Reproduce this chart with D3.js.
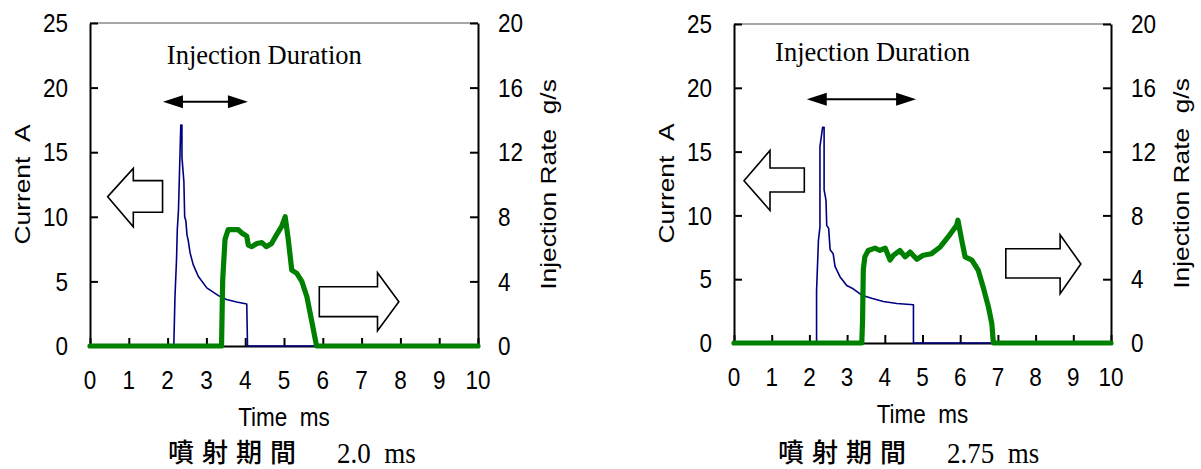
<!DOCTYPE html>
<html>
<head>
<meta charset="utf-8">
<script src="https://cdn.jsdelivr.net/npm/d3@7"></script>
<style>
  body { margin: 0; background: #fff; }
  svg { display: block; }
  .sans { font-family: "Liberation Sans", Arial, sans-serif; fill: #000; }
  .serif { font-family: "Liberation Serif", "Times New Roman", serif; fill: #000; }
  .cjk { font-family: "Noto Sans CJK JP", "Noto Sans CJK SC", sans-serif; fill: #000; }
</style>
</head>
<body>
<div id="chart"></div>
<script>
// axis ticks
const timeTicks = [0, 1, 2, 3, 4, 5, 6, 7, 8, 9, 10];
const currentTicks = [0, 5, 10, 15, 20, 25];
const rateTicks = [0, 4, 8, 12, 16, 20];

// injection duration 2.0 ms : [time ms, current A] and [time ms, rate g/s]
const current20 = [[0, 0], [2.16, 0], [2.19, 3.8], [2.23, 6.7], [2.25, 9.0], [2.28, 10.5], [2.34, 17.1], [2.37, 17.1],
  [2.37, 14.6], [2.42, 12.7], [2.44, 10.0], [2.47, 9.7], [2.50, 8.6], [2.53, 8.2], [2.58, 7.2], [2.66, 6.3],
  [2.79, 5.4], [3.01, 4.5], [3.31, 3.9], [3.52, 3.6], [3.78, 3.4], [4.04, 3.25], [4.06, 0], [10, 0]];
const rate20 = [[0, 0], [3.39, 0], [3.42, 4.1], [3.48, 6.6], [3.56, 7.2], [3.69, 7.2], [3.82, 7.2], [3.91, 7.0],
  [4.04, 6.8], [4.08, 6.25], [4.17, 6.15], [4.30, 6.35], [4.43, 6.4], [4.55, 6.15], [4.68, 6.35], [4.81, 6.9],
  [4.94, 7.4], [5.03, 8.0], [5.11, 6.6], [5.20, 4.7], [5.33, 4.5], [5.46, 4.0], [5.59, 3.05], [5.71, 1.6],
  [5.84, 0], [10, 0]];

// injection duration 2.75 ms
const current275 = [[0, 0], [2.19, 0], [2.19, 4.1], [2.24, 8.05], [2.28, 9.1], [2.28, 15.4], [2.35, 16.9], [2.39, 16.9],
  [2.39, 12.0], [2.44, 11.2], [2.46, 9.2], [2.51, 9.0], [2.55, 7.3], [2.63, 7.0], [2.68, 6.0], [2.81, 5.2],
  [2.99, 4.5], [3.16, 4.25], [3.39, 3.75], [3.65, 3.5], [3.96, 3.25], [4.32, 3.1], [4.76, 3.0], [4.76, 0], [10, 0]];
const rate275 = [[0, 0], [3.39, 0], [3.41, 1.4], [3.43, 4.6], [3.47, 5.4], [3.56, 5.8], [3.74, 5.95], [3.87, 5.8],
  [4.01, 5.95], [4.14, 5.2], [4.23, 5.5], [4.40, 5.8], [4.54, 5.4], [4.67, 5.7], [4.85, 5.25], [5.02, 5.5],
  [5.24, 5.6], [5.46, 6.0], [5.68, 6.65], [5.91, 7.4], [5.94, 7.7], [6.04, 6.45], [6.13, 5.4], [6.31, 5.2],
  [6.48, 4.55], [6.61, 3.5], [6.75, 2.25], [6.84, 1.2], [6.88, 0], [10, 0]];

const captionLabel = "噴射期間";
const durations = ["2.0\u00a0\u00a0ms", "2.75\u00a0\u00a0ms"];

// layout of the two panels (pixels) and annotation spots (data units)
const panels = [
  {
    left: 90, top: 23, right: 478, bottom: 346,
    current: current20, rate: rate20, duration: durations[0],
    capX: 168, durX: 337, capY: 462,
    title: [1.98, 21.83], span: [1.88, 4.07, 18.9],
    arrowIn: { tip: 0.456, neck: 1.116, tail: 1.87, y: 11.56, headTop: 13.75, headBot: 9.23, shaftTop: 12.8, shaftBot: 10.35 },
    arrowOut: { tip: 7.96, neck: 7.41, tail: 5.91, y: 3.43, headTop: 5.67, headBot: 1.18, shaftTop: 4.59, shaftBot: 2.27 }
  },
  {
    left: 734, top: 24, right: 1111, bottom: 343,
    current: current275, rate: rate275, duration: durations[1],
    capX: 778, durX: 947, capY: 462,
    title: [1.09, 22.12], span: [1.93, 4.83, 19.1],
    arrowIn: { tip: 0.265, neck: 0.955, tail: 1.865, y: 12.72, headTop: 15.09, headBot: 10.39, shaftTop: 13.71, shaftBot: 11.83 },
    arrowOut: { tip: 9.2, neck: 8.65, tail: 7.21, y: 6.19, headTop: 8.49, headBot: 3.86, shaftTop: 7.39, shaftBot: 5.09 }
  }
];

const svg = d3.select("#chart").append("svg")
  .attr("width", 1201)
  .attr("height", 469);

// sans text is drawn a bit taller than wide, like the source picture
function sansText(g, x, y, s, anchor, rotated) {
  return g.append("text")
    .attr("class", "sans")
    .attr("font-size", 22.5)
    .attr("text-anchor", anchor)
    .attr("transform", rotated
      ? `translate(${x},${y}) rotate(-90) scale(1.17,1)`
      : `translate(${x},${y}) scale(1,1.17)`)
    .text(s);
}

panels.forEach(p => drawPanel(p));

function drawPanel(p) {
  const x = d3.scaleLinear().domain([0, 10]).range([p.left, p.right]);
  const yI = d3.scaleLinear().domain([0, 25]).range([p.bottom, p.top]);
  const yR = d3.scaleLinear().domain([0, 20]).range([p.bottom, p.top]);
  const g = svg.append("g");

  // top frame line
  g.append("line")
    .attr("x1", p.left).attr("x2", p.right)
    .attr("y1", p.top).attr("y2", p.top)
    .attr("stroke", "#8a8a8a")
    .attr("stroke-width", 1.5);

  // axes with inward ticks, labels drawn separately
  const axes = [
    [d3.axisBottom(x).tickValues(timeTicks), `translate(0,${p.bottom})`],
    [d3.axisLeft(yI).tickValues(currentTicks), `translate(${p.left},0)`],
    [d3.axisRight(yR).tickValues(rateTicks), `translate(${p.right},0)`]
  ];
  axes.forEach(([ax, tr]) => {
    const a = g.append("g")
      .attr("transform", tr)
      .call(ax.tickSize(-8).tickSizeOuter(0).tickFormat(""));
    a.select(".domain").attr("stroke", "#000").attr("stroke-width", 2);
    a.selectAll(".tick line").attr("stroke", "#000").attr("stroke-width", 2);
  });

  // tick labels
  timeTicks.forEach(t => sansText(g, x(t), p.bottom + 42.5, t, "middle"));
  currentTicks.forEach(v => sansText(g, p.left - 22, yI(v), v, "end").attr("dy", "0.35em"));
  rateTicks.forEach(v => sansText(g, p.right + 20, yR(v), v, "start").attr("dy", "0.35em"));

  // axis titles
  const midY = (p.top + p.bottom) / 2;
  sansText(g, (p.left + p.right) / 2, p.bottom + 80, "Time\u00a0\u00a0ms", "middle");
  sansText(g, p.left - 68, midY, "Current\u00a0\u00a0A", "middle", true).attr("dy", "0.35em");
  sansText(g, p.right + 70, midY, "Injection Rate\u00a0\u00a0g/s", "middle", true).attr("dy", "0.35em");

  // current trace
  g.append("path")
    .datum(p.current)
    .attr("fill", "none")
    .attr("stroke", "#000080")
    .attr("stroke-width", 1.6)
    .attr("stroke-linejoin", "round")
    .attr("d", d3.line().x(d => x(d[0])).y(d => yI(d[1])));

  // injection rate trace
  g.append("path")
    .datum(p.rate)
    .attr("fill", "none")
    .attr("stroke", "#008000")
    .attr("stroke-width", 5.2)
    .attr("stroke-linejoin", "round")
    .attr("stroke-linecap", "round")
    .attr("d", d3.line().x(d => x(d[0])).y(d => yR(d[1])));

  // "Injection Duration" with double-headed arrow
  g.append("text")
    .attr("class", "serif")
    .attr("font-size", 26.5)
    .attr("x", x(p.title[0]))
    .attr("y", yI(p.title[1]))
    .text("Injection Duration");

  const ax0 = x(p.span[0]), ax1 = x(p.span[1]), ay = yI(p.span[2]);
  g.append("line")
    .attr("x1", ax0 + 10).attr("x2", ax1 - 10)
    .attr("y1", ay).attr("y2", ay)
    .attr("stroke", "#000")
    .attr("stroke-width", 2);
  g.append("path")
    .attr("fill", "#000")
    .attr("d", `M${ax0},${ay}L${ax0 + 20},${ay - 6.5}L${ax0 + 20},${ay + 6.5}Z` +
               `M${ax1},${ay}L${ax1 - 20},${ay - 6.5}L${ax1 - 20},${ay + 6.5}Z`);

  // hollow block arrows pointing at each axis
  [p.arrowIn, p.arrowOut].forEach(a => {
    const pts = [
      [a.tip, a.y], [a.neck, a.headTop], [a.neck, a.shaftTop], [a.tail, a.shaftTop],
      [a.tail, a.shaftBot], [a.neck, a.shaftBot], [a.neck, a.headBot]
    ];
    g.append("polygon")
      .attr("points", pts.map(d => [x(d[0]), yI(d[1])].join(",")).join(" "))
      .attr("fill", "#fff")
      .attr("stroke", "#000")
      .attr("stroke-width", 1.6);
  });

  // caption under the panel
  g.append("text")
    .attr("class", "cjk")
    .attr("font-size", 26)
    .attr("font-weight", 500)
    .attr("letter-spacing", 8)
    .attr("x", p.capX)
    .attr("y", p.capY)
    .text(captionLabel);
  g.append("text")
    .attr("class", "serif")
    .attr("font-size", 27)
    .attr("transform", `translate(${p.durX},${p.capY + 1}) scale(1,1.08)`)
    .text(p.duration);
}
</script>
</body>
</html>
